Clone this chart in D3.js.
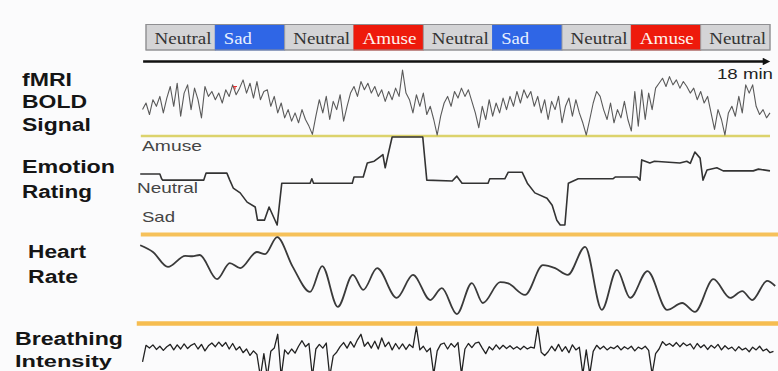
<!DOCTYPE html>
<html><head><meta charset="utf-8">
<script src="https://cdn.jsdelivr.net/npm/d3@7"></script>
<style>html,body{margin:0;padding:0;background:#fbfbfc;}svg{display:block;}</style>
</head><body>
<svg id="c" width="778" height="371"></svg>
<script>
// ---------- DATA ----------
const conditions = ["Neutral","Sad","Neutral","Amuse","Neutral","Sad","Neutral","Amuse","Neutral"];
const blockSeconds = 120;
const timeLabels = ["18 min"];
const emotionLabels = ["Amuse","Neutral","Sad"];
const emotionLabelValues = [1, 0, -1];
const panelLabels = [["fMRI","BOLD","Signal"],["Emotion","Rating"],["Heart","Rate"],["Breathing","Intensity"]];

// fMRI BOLD signal (sampled every 6 s from t = -6 s)
const fmriStart = -6, fmriStep = 6;
const fmriValues = [-0.2,0.0,-0.35,0.1,-0.1,0.2,-0.3,0.15,
 0.5,-0.1,0.6,-0.4,0.3,0.55,-0.2,0.45,0.1,-0.45,0.5,0.2,0.35,
 0.1,0.3,0.0,0.4,0.2,0.55,0.25,0.45,0.7,0.3,0.6,0.15,0.65,0.1,0.35,
 0.4,-0.1,0.2,-0.3,0.0,-0.45,-0.2,-0.55,-0.3,-0.6,-0.2,-0.5,
 -0.7,-0.95,-0.4,
 0.1,-0.3,0.2,-0.5,0.05,-0.2,0.25,-0.55,-0.1,0.3,
 0.5,0.2,0.65,0.4,0.6,0.3,0.5,
 0.2,0.4,0.05,0.35,0.1,0.45,0.2,
 1.0,0.3,
 0.1,-0.3,0.25,-0.1,0.3,-0.35,-0.1,
 -0.5,-0.97,-0.4,
 0.0,0.2,-0.1,0.35,0.15,0.45,0.2,0.4,0.05,-0.3,
 -0.75,
 -0.1,-0.5,0.1,-0.4,0.0,-0.3,0.15,-0.2,0.2,-0.1,
 0.35,0.0,0.4,0.15,0.35,-0.1,
 0.2,-0.3,0.1,-0.5,0.05,-0.2,0.2,-0.6,-0.1,0.15,-0.4,0.1,-0.3,-0.6,
 -0.97,-0.5,
 0.0,0.35,0.2,-0.2,-0.5,0.0,-0.6,-0.2,-0.45,0.05,-0.5,
 -0.85,
 0.35,-0.7,0.4,-0.5,0.3,-0.2,0.45,
 0.6,0.75,0.5,0.8,0.55,0.7,0.45,0.65,0.5,
 0.3,0.45,0.1,0.35,0.0,0.2,-0.3,
 -0.8,-0.2,-0.5,-0.97,-0.3,
 -0.1,-0.4,0.2,-0.3,
 0.55,0.3,0.55,
 -0.1,-0.35,-0.2,-0.45,-0.3];
const fmriMarker = [[154, 0.5]];

// Emotion rating: [time s, rating] (-1 sad, 0 neutral, +1 amuse)
const emotionTimes = [-10,24,27,29,100,104,140,145,151,163,175,189,193,205,213,227,235,284,287,290,357,360,376,383,395,405,410,414,419,426,479,486,530,538,547,592,595,621,627,651,660,673,694,703,711,717,725,731,748,808,812,850,855,858,872,880,924,936,942,950,959,964,971,988,999,1051,1060,1080];
const emotionValues = [0.16,0.16,0.05,0.02,0.02,0.18,0.18,0.02,-0.16,-0.27,-0.48,-0.59,-0.89,-0.89,-0.59,-1.0,-0.05,-0.05,0.05,-0.05,-0.05,0.09,0.09,0.41,0.45,0.55,0.6,0.3,0.6,1.0,1.0,0.02,0.0,0.11,-0.05,-0.05,0.05,0.05,0.2,0.2,-0.05,-0.27,-0.39,-0.55,-0.89,-1.0,-1.0,-0.05,0.05,0.05,0.09,0.09,0.02,0.48,0.41,0.45,0.41,0.45,0.4,0.66,0.52,0.02,0.25,0.3,0.23,0.23,0.27,0.23];

// Heart rate: [time s, bpm]
const heartTimes = [-10,12,38,68,80,93,123,145,163,192,206,227,254,284,305,332,358,376,400,434,462,492,512,538,564,583,613,627,656,687,708,730,760,789,815,838,868,902,928,950,982,1011,1032,1049,1075,1089];
const heartValues = [77.6,76,72.5,75.1,75.0,75.3,69.6,73.4,72.2,76,75.5,79.5,72.5,66.6,72.7,63.1,70.6,67.1,72.2,65.2,70.6,64.7,67.5,61.4,68.7,64,68.9,68.6,65.9,72.9,72.2,70.6,77.2,62.4,71.8,65.2,71.5,62.4,64,61.9,69.6,65.2,66.8,64.7,69.2,68];

// Breathing intensity (sampled every 6 s from t = -6 s)
const breathStart = -6, breathStep = 6;
const breathValues = [2.2,5.8,5.2,5.9,4.9,5.6,4.7,5.5,6.0,4.8,5.9,5.0,6.1,5.1,5.8,6.2,5.0,6.0,4.6,5.7,
 6.3,5.5,6.5,5.6,6.4,5.0,6.2,4.8,5.5,4.2,5.0,3.6,4.6,3.8,-1,4.0,-1,4.5,5.2,8.2,
 -1,4.8,3.9,5.0,4.1,5.6,6.8,5.5,6.2,-1,5.0,6.0,5.2,6.3,-1,3.5,4.3,5.5,6.4,5.2,
 6.6,5.4,7.0,8.2,5.6,6.5,5.2,6.7,5.0,7.4,5.5,6.5,4.8,6.2,5.0,6.1,4.9,6.0,5.3,9.8,
 4.8,5.6,4.4,5.2,-0.5,4.6,6.0,6.3,5.0,6.2,5.4,6.4,-0.5,5.0,6.2,5.3,6.3,6.5,5.2,4.0,
 5.5,4.8,5.9,5.0,5.8,5.1,5.7,5.0,5.5,4.9,5.6,5.0,5.4,5.2,9.8,4.3,3.6,4.4,5.6,4.6,
 6.0,4.5,5.5,4.2,5.9,4.8,5.4,-0.5,4.8,-0.5,4.5,5.8,5.0,5.6,4.8,5.4,5.1,5.7,4.8,5.5,
 5.0,5.6,4.6,5.4,5.0,5.6,4.7,-0.5,4.0,5.0,6.6,5.8,6.2,5.6,6.4,5.5,6.3,5.7,6.1,5.0,
 6.2,5.3,5.9,4.9,5.8,5.2,6.0,4.8,5.7,5.0,5.4,4.6,5.5,4.8,5.2,4.4,5.4,4.8,5.6,4.6,
 5.0,4.2,4.5];

// ---------- DRAWING ----------
const svg = d3.select("#c");
svg.append("rect").attr("width",778).attr("height",371).attr("fill","#fbfbfc");

const x = d3.scaleLinear().domain([0, blockSeconds*conditions.length]).range([146, 770]);
const yF = d3.scaleLinear().domain([-1,1]).range([136,70]);
const yE = d3.scaleLinear().domain([-1,1]).range([225,137]);
const yH = d3.scaleLinear().domain([60,80]).range([320,235]);
const yB = d3.scaleLinear().domain([0,10]).range([372,326]);

const sans = "'Liberation Sans', Arial, sans-serif";
const serif = "'Liberation Serif', 'Times New Roman', serif";

function txt(g, s, px, py, size, width, o={}) {
  const t = g.append("text").attr("x",px).attr("y",py).text(s)
    .attr("font-family", o.family||sans).attr("font-size",size)
    .attr("font-weight", o.weight||"normal").attr("fill", o.fill||"#111");
  if (width) t.attr("textLength",width).attr("lengthAdjust","spacingAndGlyphs");
  return t;
}

// condition bar
const fills = {Neutral:"#d4d4d6", Sad:"#2f66e6", Amuse:"#ee1a0c"};
const textFill = {Neutral:"#333", Sad:"#e8f0ff", Amuse:"#fff3ee"};
const textW = {Neutral:57, Sad:28, Amuse:54};
const bar = svg.append("g");
conditions.forEach((c,i)=>{
  const x0 = x(i*blockSeconds), x1 = x((i+1)*blockSeconds);
  bar.append("rect").attr("x",x0).attr("y",24.5).attr("width",x1-x0).attr("height",25.5)
    .attr("fill",fills[c]).attr("stroke", c==="Neutral"?"#9a9a9c":fills[c]).attr("stroke-width",1);
  txt(bar, c, x0+8.5, 43.5, 16, textW[c], {family:serif, fill:textFill[c]});
});
bar.append("rect").attr("x",x(0)).attr("y",24.5).attr("width",x(1080)-x(0)).attr("height",25.5)
  .attr("fill","none").attr("stroke","#8f8f92").attr("stroke-width",1);

// time arrow
const defs = svg.append("defs");
defs.append("marker").attr("id","ah").attr("viewBox","0 0 10 10").attr("refX",2).attr("refY",5)
  .attr("markerWidth",4).attr("markerHeight",3).attr("orient","auto")
  .append("path").attr("d","M0,0L10,5L0,10z").attr("fill","#111");
svg.append("line").attr("x1",x(-5)).attr("x2",x(1070)).attr("y1",61.5).attr("y2",61.5)
  .attr("stroke","#111").attr("stroke-width",2.5).attr("marker-end","url(#ah)");
txt(svg, timeLabels[0], 717, 79, 14, 56, {fill:"#222"});

// separator lines
svg.append("line").attr("x1",x(-9)).attr("x2",x(1080)).attr("y1",yF(-1)).attr("y2",yF(-1))
  .attr("stroke","#dcd36c").attr("stroke-width",2.6);
svg.append("line").attr("x1",x(-9)).attr("x2",778).attr("y1",yE(-1)+9.5).attr("y2",yE(-1)+9.5)
  .attr("stroke","#f6c15a").attr("stroke-width",4);
svg.append("line").attr("x1",x(-16)).attr("x2",778).attr("y1",yH(60)+3.5).attr("y2",yH(60)+3.5)
  .attr("stroke","#f6bd50").attr("stroke-width",4.5);

// panel labels
const lab = svg.append("g");
const labPos = [[[22,86,50],[22,108,65],[22,130.5,69],17.5],[[22,173,93],[22,198,70],17.5],[[28,258,58],[28,283,50],17.5],[[15,345,108],[15,366.5,97],17]];
panelLabels.forEach((ls,pi)=>ls.forEach((s,li)=>{
  const p = labPos[pi][li];
  txt(lab, s, p[0], p[1], (pi===3 && li===1) ? 16.5 : 17.5, p[2], {weight:"bold", fill:"#151515"});
}));

// emotion axis labels
const elPos = [[142,151,60],[137,193,61],[142,222,33]];
emotionLabels.forEach((s,i)=>{
  txt(svg, s, elPos[i][0], elPos[i][1], 14.5, elPos[i][2], {fill:"#454545"});
});

// traces
const fmri = fmriValues.map((v,i)=>[fmriStart+i*fmriStep, v]);
svg.append("path").datum(fmri)
  .attr("d", d3.line().x(d=>x(d[0])).y(d=>yF(d[1])))
  .attr("fill","none").attr("stroke","#5a5a5a").attr("stroke-width",1.1).attr("stroke-linejoin","round");
svg.selectAll(".mk").data(fmriMarker).enter().append("path")
  .attr("d", d=>`M${x(d[0])-2},${yF(d[1])}h4M${x(d[0])},${yF(d[1])}v3`)
  .attr("stroke","#e23030").attr("stroke-width",1.2);

const emo = emotionTimes.map((t,i)=>[t, emotionValues[i]]);
svg.append("path").datum(emo)
  .attr("d", d3.line().x(d=>x(d[0])).y(d=>yE(d[1])))
  .attr("fill","none").attr("stroke","#333").attr("stroke-width",1.6).attr("stroke-linejoin","round");

const hr = heartTimes.map((t,i)=>[t, heartValues[i]]);
svg.append("path").datum(hr)
  .attr("d", d3.line().x(d=>x(d[0])).y(d=>yH(d[1])).curve(d3.curveMonotoneX))
  .attr("fill","none").attr("stroke","#3a3a3a").attr("stroke-width",1.8);

const br = breathValues.map((v,i)=>[breathStart+i*breathStep, v]);
svg.append("path").datum(br)
  .attr("d", d3.line().x(d=>x(d[0])).y(d=>yB(d[1])))
  .attr("fill","none").attr("stroke","#222").attr("stroke-width",1.3).attr("stroke-linejoin","round");
</script>
</body></html>
